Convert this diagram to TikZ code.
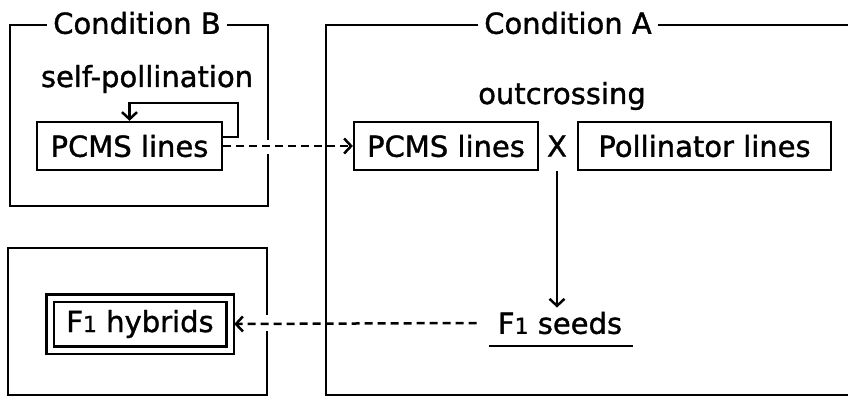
\documentclass[tikz,border=0pt]{standalone}
\usepackage{fontspec}
\setmainfont{DejaVu Sans}[FakeBold=1.2]
\usetikzlibrary{arrows.meta}
\newcommand{\sone}{{\fontsize{22}{22}\selectfont 1}}
\begin{document}
\begin{tikzpicture}[x=1pt,y=-1pt,line width=2.5pt,
  txt/.style={font=\fontsize{29}{30}\selectfont, inner sep=0pt},
  title/.style={txt, fill=white, inner xsep=6pt, inner ysep=1pt},
  linebox/.style={draw, line width=2.3pt, font=\fontsize{29}{30}\selectfont, inner sep=0pt, minimum height=48pt},
  dblbox/.style={draw, double, double distance=5pt, line width=2.4pt, font=\fontsize{29}{30}\selectfont, inner sep=0pt, minimum height=52pt},
  dashln/.style={dash pattern=on 8pt off 5pt},
  barb/.style={-{Straight Barb[length=7pt,width=15pt,line width=2.5pt]}},
  frame/.style={line width=2.7pt}]
\useasboundingbox (0,0) rectangle (848,398);
\clip (0,0) rectangle (848,398);
% containers
\draw[frame] (268,140) -- (268,25) -- (10,25) -- (10,206) -- (268,206) -- (268,154);
\draw[frame] (267,315) -- (267,248) -- (8,248) -- (8,395) -- (267,395) -- (267,331);
\draw[frame] (900,25) -- (326,25) -- (326,395) -- (900,395);
\node[title] (tB) at (137,23) {Condition B};
\node[title] (tA) at (568,23) {Condition A};
% nodes
\node[txt] (self) at (147,79) {self-pollination};
\node[linebox, minimum width=185pt] (pb) at (129.5,146) {PCMS lines};
\node[txt] (out) at (562,96) {outcrossing};
\node[linebox, minimum width=184pt] (pa) at (446,146) {PCMS lines};
\node[txt] (xx) at (557,146) {X};
\node[linebox, minimum width=253pt] (pol) at (704.5,146) {Pollinator lines};
\node[txt] (fs) at (560,323) {F\sone\ seeds};
\node[dblbox, minimum width=180pt] (fh) at (140,324) {F\sone\ hybrids};
\coordinate (ul1) at (489,346);
\coordinate (ul2) at (633,346);
% connectors
\draw[barb] ([yshift=9pt]pb.east) -- ++(15,0) -- ++(0,-34) -| (pb.north);
\draw[dashln, barb] (pb.east) -- (pa.west);
\draw[barb] (xx |- pa.south) -- ([yshift=3pt]xx |- fs.north);
\draw[dashln, barb] ([xshift=-20pt]fs.west) -- ([xshift=3pt]fh.east);
\draw (ul1) -- (ul2);
\end{tikzpicture}
\end{document}
